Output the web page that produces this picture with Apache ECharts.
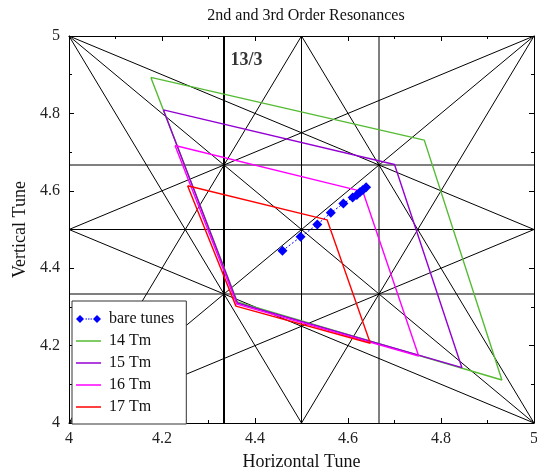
<!DOCTYPE html>
<html><head><meta charset="utf-8">
<script src="https://cdn.jsdelivr.net/npm/echarts@6/dist/echarts.min.js"></script>
<style>html,body{margin:0;padding:0;background:#fff}#c{width:537px;height:469px}</style>
</head><body><div id="c"></div>
<script>
// ---- data ----
const bareX = [4.459, 4.498, 4.534, 4.563, 4.590, 4.610, 4.619, 4.626, 4.632, 4.639];
const bareY = [4.445, 4.481, 4.513, 4.543, 4.567, 4.583, 4.589, 4.597, 4.602, 4.609];

const tm14X = [4.176, 4.362, 4.931, 4.764];
const tm14Y = [4.893, 4.313, 4.111, 4.731];
const tm15X = [4.203, 4.362, 4.845, 4.700];
const tm15Y = [4.809, 4.310, 4.143, 4.668];
const tm16X = [4.228, 4.361, 4.752, 4.632];
const tm16Y = [4.717, 4.307, 4.173, 4.598];
const tm17X = [4.255, 4.359, 4.648, 4.555];
const tm17Y = [4.613, 4.302, 4.206, 4.525];

// resonance lines (2nd & 3rd order): endpoints in tune units
const resStartX = [13/3, 4.5, 14/3, 4, 4, 4, 4, 4, 4, 4.5, 4, 4, 4, 4.5, 4, 4];
const resStartY = [4, 4, 4, 13/3, 4.5, 14/3, 5, 4, 5, 5, 4.5, 5, 4, 4, 4, 4.5];
const resEndX   = [13/3, 4.5, 14/3, 5, 5, 5, 5, 5, 4.5, 5, 5, 5, 4.5, 5, 5, 5];
const resEndY   = [5, 5, 5, 13/3, 4.5, 14/3, 4, 5, 4, 4, 4, 4.5, 5, 5, 4.5, 5];
const resWidth  = [2, 1, 1, 1, 1, 1, 1, 1, 1, 1, 1, 1, 1, 1, 1, 1];

const seriesNames = ['bare tunes', '14 Tm', '15 Tm', '16 Tm', '17 Tm'];
const seriesColors = ['#0000ff', '#55bb33', '#9400d3', '#ff00ff', '#ff0000'];
const resonanceLabel = '13/3';
const resonanceLabelPos = [13/3, 4.938];

// ---- chart ----
const serif = 'Liberation Serif, Times New Roman, serif';
const pts = (xs, ys) => xs.map((x, i) => [x, ys[i]]);
const closed = (xs, ys) => { const p = pts(xs, ys); p.push(p[0]); return p; };

const series = [];
resStartX.forEach((x, i) => {
  series.push({
    type: 'line', silent: true, symbol: 'none', z: 1,
    data: [[x, resStartY[i]], [resEndX[i], resEndY[i]]],
    lineStyle: { color: '#000', width: resWidth[i] }
  });
});
const polys = [[tm14X, tm14Y], [tm15X, tm15Y], [tm16X, tm16Y], [tm17X, tm17Y]];
polys.forEach((p, i) => {
  series.push({
    name: seriesNames[i + 1], type: 'line', symbol: 'none', z: 3,
    data: closed(p[0], p[1]),
    lineStyle: { color: seriesColors[i + 1], width: 1.4 },
    itemStyle: { color: seriesColors[i + 1] }
  });
});
series.push({
  name: seriesNames[0], type: 'line', symbol: 'diamond', symbolSize: 10, z: 5,
  data: pts(bareX, bareY),
  lineStyle: { color: seriesColors[0], width: 1, type: [2, 2] },
  itemStyle: { color: seriesColors[0] }
});
series.push({
  type: 'scatter', silent: true, symbolSize: 1, itemStyle: { color: 'rgba(0,0,0,0)' }, z: 6,
  data: [resonanceLabelPos],
  label: { show: true, position: 'right', distance: 6, formatter: resonanceLabel,
    fontFamily: serif, fontWeight: 'bold', fontSize: 18, color: '#000' }
});

const bareIcon = 'path://M0 7L4 3L8 7L4 11Z M17 7L21 3L25 7L21 11Z M9.5 6.5h1.5v1h-1.5Z M12 6.5h1.5v1h-1.5Z M14.5 6.5h1.5v1h-1.5Z';
const lineIcon = 'path://M0 0h25v1.5h-25Z';

const axisCommon = {
  type: 'value', min: 4, max: 5, interval: 0.2,
  axisLine: { show: true, onZero: false, lineStyle: { color: '#000', width: 1 } },
  axisTick: { show: true, inside: true, length: 5, lineStyle: { color: '#000' } },
  minorTick: { show: true, splitNumber: 2, length: 3, lineStyle: { color: '#000' } },
  splitLine: { show: false }
};

const option = {
  animation: false,
  backgroundColor: '#fff',
  title: {
    text: '2nd and 3rd Order Resonances', left: 301, top: 3, textAlign: 'center',
    textStyle: { fontFamily: serif, fontSize: 16, fontWeight: 'normal', color: '#111' }
  },
  grid: { left: 69, right: 3, top: 36, bottom: 46, containLabel: false, outerBoundsMode: 'none' },
  xAxis: [
    Object.assign({}, axisCommon, {
      position: 'bottom', name: 'Horizontal Tune', nameLocation: 'middle', nameGap: 30,
      nameTextStyle: { fontFamily: serif, fontSize: 18, color: '#111' },
      axisLabel: { fontFamily: serif, fontSize: 16, color: '#222', margin: 8 }
    }),
    Object.assign({}, axisCommon, { position: 'top', axisLabel: { show: false } })
  ],
  yAxis: [
    Object.assign({}, axisCommon, {
      position: 'left', name: 'Vertical Tune', nameLocation: 'middle', nameGap: 37,
      nameTextStyle: { fontFamily: serif, fontSize: 18, color: '#111' },
      axisLabel: { fontFamily: serif, fontSize: 16, color: '#222', margin: 9 }
    }),
    Object.assign({}, axisCommon, { position: 'right', axisLabel: { show: false } })
  ],
  legend: {
    orient: 'vertical', left: 72, top: 301, width: 121,
    padding: [10, 12, 9, 4], itemGap: 6, itemWidth: 25, itemHeight: 14,
    backgroundColor: '#fff', borderColor: '#333', borderWidth: 1, borderRadius: 0,
    z: 20,
    textStyle: { fontFamily: serif, fontSize: 16, color: '#111', lineHeight: 14, padding: [0, 0, 0, 3] },
    data: [
      { name: seriesNames[0], icon: bareIcon },
      { name: seriesNames[1], icon: lineIcon }, { name: seriesNames[2], icon: lineIcon },
      { name: seriesNames[3], icon: lineIcon }, { name: seriesNames[4], icon: lineIcon }
    ]
  },
  series: series
};

const chart = echarts.init(document.getElementById('c'), null, { renderer: 'canvas' });
chart.setOption(option);
</script></body></html>
